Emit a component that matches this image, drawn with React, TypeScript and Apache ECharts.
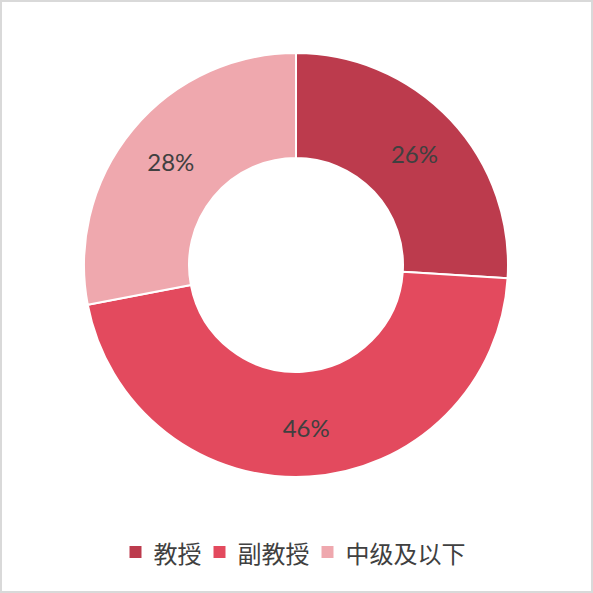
import { useEffect, useRef } from 'react';
import * as echarts from 'echarts';

const categories = ['教授', '副教授', '中级及以下'];
const shares = [26, 46, 28];
const colors = ['#BC3B4D', '#E34A5E', '#EFA8AE'];

export default function App() {
  const chartRef = useRef<HTMLDivElement>(null);

  useEffect(() => {
    if (!chartRef.current) return;
    const chart = echarts.init(chartRef.current, undefined, { renderer: 'svg' });

    chart.setOption({
      animation: false,
      color: colors,
      legend: {
        bottom: 22,
        left: 'center',
        icon: 'rect',
        itemWidth: 14,
        itemHeight: 14,
        itemGap: 10,
        textStyle: {
          color: '#404040',
          fontSize: 24,
          padding: [0, 0, 0, 6],
          fontFamily: '"Noto Sans CJK SC", "Noto Sans", sans-serif',
        },
        data: categories,
      },
      series: [
        {
          type: 'pie',
          center: [294, 263],
          radius: [107, 212],
          startAngle: 90,
          clockwise: true,
          itemStyle: { borderColor: '#fff', borderWidth: 2 },
          label: {
            show: true,
            position: 'inside',
            formatter: '{c}%',
            color: '#404040',
            fontSize: 24,
            fontFamily: 'Lato, "Noto Sans", sans-serif',
          },
          labelLine: { show: false },
          emphasis: { disabled: true },
          data: categories.map((name, i) => ({ name, value: shares[i] })),
        },
      ],
    });

    return () => chart.dispose();
  }, []);

  return (
    <div
      style={{
        position: 'fixed',
        left: 0,
        top: 0,
        width: 593,
        height: 593,
        boxSizing: 'border-box',
        border: '2px solid #d9d9d9',
        background: '#fff',
      }}
    >
      <div ref={chartRef} style={{ width: 589, height: 589 }} />
    </div>
  );
}
